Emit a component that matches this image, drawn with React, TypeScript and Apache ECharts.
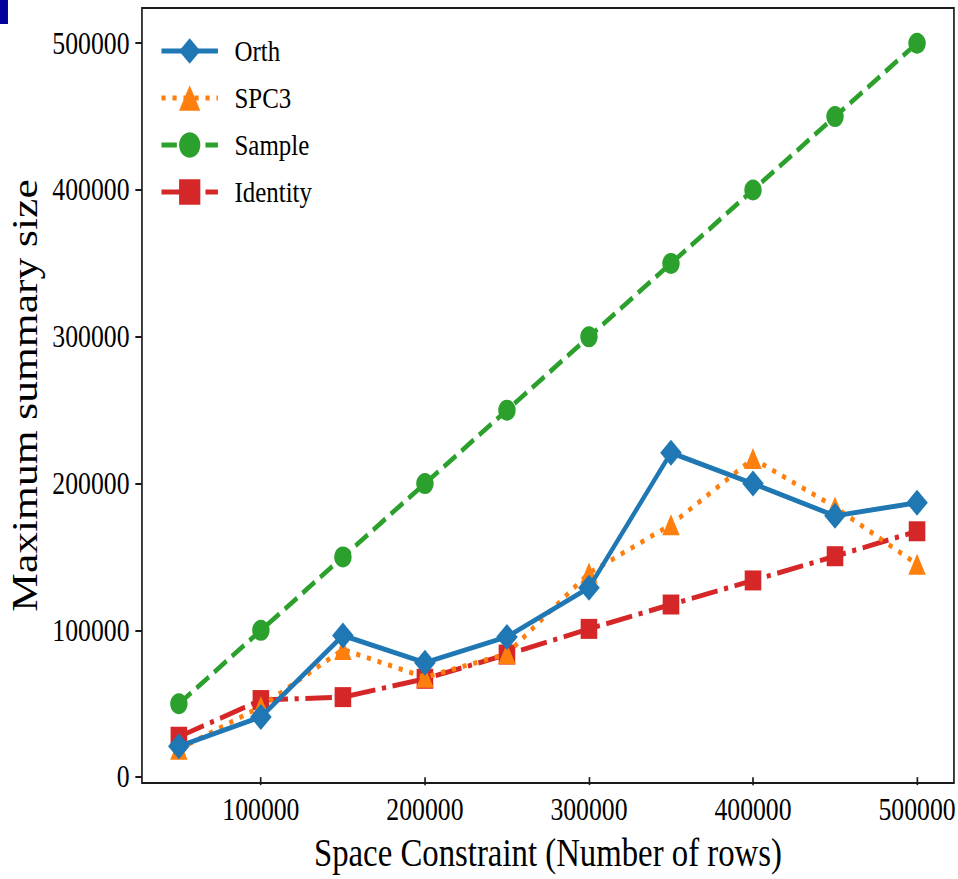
import React, { useEffect, useRef } from "react";
import * as echarts from "echarts";

// ---- data ----
const xValues = [50000, 100000, 150000, 200000, 250000, 300000, 350000, 400000, 450000, 500000];
const orth = [21000, 41000, 96500, 78000, 95500, 129000, 221000, 200000, 178000, 187000];
const spc3 = [19000, 48000, 87000, 68000, 84000, 139000, 172000, 217000, 184000, 145000];
const sample = [50000, 100000, 150000, 200000, 250000, 300000, 350000, 400000, 450000, 500000];
const identity = [27500, 52500, 54500, 67000, 83500, 101000, 117600, 134000, 150500, 167500];
const xTicks = [100000, 200000, 300000, 400000, 500000];
const yTicks = [0, 100000, 200000, 300000, 400000, 500000];
const seriesNames = ["Orth", "SPC3", "Sample", "Identity"];
const xTitle = "Space Constraint (Number of rows)";
const yTitle = "Maximum summary size";

const PAGE_W = 958;
const PAGE_H = 879;
const SX = 0.8302;
const CHART_W = Math.round(PAGE_W / SX);
const FONT = "'Liberation Serif', 'Times New Roman', serif";

const pairs = (ys: number[]) => xValues.map((x, i) => [x, ys[i]]);
const plain = (v: number) => String(Math.round(v));

export default function App() {
  const ref = useRef<HTMLDivElement>(null);
  useEffect(() => {
    if (!ref.current) return;
    const chart = echarts.init(ref.current, undefined, { renderer: "svg" });
    const lw = 5;
    chart.setOption({
      animation: false,
      backgroundColor: "#fff",
      grid: {
        left: 169,
        top: 8,
        width: 981,
        height: 775,
        show: true,
        borderColor: "#1a1a1a",
        borderWidth: 2,
        backgroundColor: "transparent",
      },
      graphic: [
        { type: "rect", left: 0, top: 0, shape: { width: 9.6, height: 24 }, style: { fill: "#00009c" } },
      ],
      legend: {
        orient: "vertical",
        left: 187,
        top: 31,
        itemWidth: 68,
        itemHeight: 32,
        itemGap: 17,
        data: seriesNames,
        selectedMode: false,
        lineStyle: { width: lw },
        textStyle: { fontFamily: FONT, fontSize: 30, color: "#000", lineHeight: 30, padding: [0, 0, 0, 15] },
      },
      xAxis: {
        type: "value",
        min: 27500,
        max: 522500,
        name: xTitle,
        nameLocation: "middle",
        nameGap: 50,
        nameTextStyle: { fontFamily: FONT, fontSize: 39.5, color: "#000" },
        axisLine: { show: false },
        splitLine: { show: false },
        axisTick: { show: true, length: 8, lineStyle: { color: "#1a1a1a", width: 2 }, customValues: xTicks },
        axisLabel: { fontFamily: FONT, fontSize: 31, color: "#000", margin: 11, customValues: xTicks, formatter: plain },
      },
      yAxis: {
        type: "value",
        min: -4000,
        max: 524000,
        name: yTitle,
        nameLocation: "middle",
        nameGap: 119,
        nameTextStyle: { fontFamily: FONT, fontSize: 43.5, color: "#000" },
        axisLine: { show: false },
        splitLine: { show: false },
        axisTick: { show: true, length: 8, lineStyle: { color: "#1a1a1a", width: 2 }, customValues: yTicks },
        axisLabel: { fontFamily: FONT, fontSize: 31, color: "#000", margin: 15, customValues: yTicks, formatter: plain },
      },
      series: [
        {
          name: "Orth",
          type: "line",
          z: 5,
          data: pairs(orth),
          symbol: "diamond",
          symbolSize: 26,
          color: "#1f77b4",
          lineStyle: { width: lw, type: "solid" },
          itemStyle: { color: "#1f77b4" },
        },
        {
          name: "SPC3",
          type: "line",
          z: 4,
          data: pairs(spc3),
          symbol: "triangle",
          symbolSize: 21,
          color: "#ff7f0e",
          lineStyle: { width: lw, type: [5, 8.25], cap: "butt" },
          itemStyle: { color: "#ff7f0e" },
        },
        {
          name: "Sample",
          type: "line",
          z: 3,
          data: pairs(sample),
          symbol: "circle",
          symbolSize: 21,
          color: "#2ca02c",
          lineStyle: { width: lw, type: [18.5, 8], cap: "butt" },
          itemStyle: { color: "#2ca02c" },
        },
        {
          name: "Identity",
          type: "line",
          z: 2,
          data: pairs(identity),
          symbol: "rect",
          symbolSize: 20,
          color: "#d62728",
          lineStyle: { width: lw, type: [32, 8, 5, 8], cap: "butt" },
          itemStyle: { color: "#d62728" },
        },
      ],
    });
    return () => chart.dispose();
  }, []);

  return (
    <div
      style={{
        position: "fixed",
        left: 0,
        top: 0,
        width: PAGE_W,
        height: PAGE_H,
        overflow: "hidden",
        background: "#fff",
      }}
    >
      <div
        ref={ref}
        style={{
          width: CHART_W,
          height: PAGE_H,
          transform: `scaleX(${SX})`,
          transformOrigin: "0 0",
        }}
      />
    </div>
  );
}
